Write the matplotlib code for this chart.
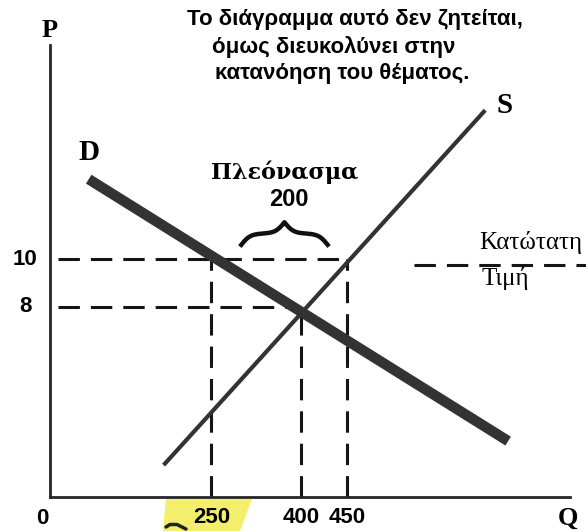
import numpy as np
import matplotlib.pyplot as plt
from matplotlib.patches import Polygon

# values
q_ticks = [250, 400, 450]
p_ticks = [8, 10]
D_q = [60, 703]          # demand curve ends
D_p = [13.36, 2.35]
S_q = [176, 667]         # supply curve ends
S_p = [1.34, 16.26]
p_floor = 10             # minimum price
q_demanded = 250
q_supplied = 450
q_eq, p_eq = 400, 8
surplus = q_supplied - q_demanded

note = ["Το διάγραμμα αυτό δεν ζητείται,",
        "όμως διευκολύνει στην",
        "κατανόηση του θέματος."]

# the Q axis of the sketch is not drawn to scale, so map it piecewise
q_anchor = [0, 250, 400, 450, 800]
u_anchor = [0, 162, 252, 298, 522]


def fwd(q):
    return np.interp(q, q_anchor, u_anchor, left=-1e3, right=1e3)


def inv(u):
    return np.interp(u, u_anchor, q_anchor, left=-1e3, right=1e3)


W, H = 586, 531
fig = plt.figure(figsize=(W / 100, H / 100), dpi=100)
ax = fig.add_axes([50 / W, (H - 497) / H, 520 / W, 452 / H])
ax.set_xscale('function', functions=(fwd, inv))
ax.set_xlim(0, 800)
ax.set_ylim(0, 19)

ink = '#262626'
for s in ['top', 'right']:
    ax.spines[s].set_visible(False)
for s in ['left', 'bottom']:
    ax.spines[s].set_linewidth(2.0)
    ax.spines[s].set_color(ink)
ax.set_xticks([])
ax.set_yticks([])

# yellow marker highlight under "250" (in figure pixels)
def figpx(pts):
    return [(x / W, 1 - y / H) for x, y in pts]

fig.patches.append(Polygon(figpx([(166, 499), (252, 499), (240, 531), (163, 531)]),
                           closed=True, fc='#f3ef6c', ec='none',
                           transform=fig.transFigure, zorder=-2))
# pen mark at the bottom edge
fig.lines.append(plt.Line2D([x / W for x in (166, 170, 177, 186)],
                            [1 - y / H for y in (527, 524.5, 524.5, 529)],
                            transform=fig.transFigure, color='#222222', lw=2.5,
                            solid_capstyle='round', zorder=-1))

# dashed guide lines
dash = dict(color='#151515', lw=2.2, dashes=(7, 3.6), solid_capstyle='butt')
ax.plot([12, q_supplied], [p_floor, p_floor], **dash)
ax.plot([12, q_eq], [p_eq, p_eq], **dash)
ax.plot([q_demanded, q_demanded], [0, p_floor], **dash)
ax.plot([q_eq, q_eq], [0, p_eq], **dash)
ax.plot([q_supplied, q_supplied], [0, p_floor], **dash)
ax.plot([555, 830], [p_floor - 0.25, p_floor - 0.25], clip_on=False, **dash)

# demand and supply
ax.plot(D_q, D_p, color='#333333', lw=7.5, solid_capstyle='butt')
ax.plot(S_q, S_p, color='#333333', lw=3.0, solid_capstyle='butt')

# brace over the surplus
u0, u1 = fwd(300), fwd(429)
u = np.linspace(u0, u1, 401)
half = u[:201]
beta = 0.22
yh = 1 / (1 + np.exp(-beta * (half - half[0]))) + 1 / (1 + np.exp(-beta * (half - half[-1])))
yb = np.concatenate([yh, yh[-2::-1]])
yb = 10.6 + (yb - yb.min()) / (yb.max() - yb.min()) * 0.95
ax.plot(inv(u), yb, color='#111111', lw=3.2)

serif = 'Liberation Serif'
sans = 'Liberation Sans'


def ftxt(x, y, s, **kw):
    kw.setdefault('ha', 'center')
    fig.text(x / W, 1 - y / H, s, va='center', **kw)


ftxt(285, 172, 'Πλεόνασμα', fontsize=16, fontweight='bold', family='DejaVu Serif')
ftxt(289, 200, str(surplus), fontsize=17, fontweight='bold', family=sans)

# axis labels and tick labels
ftxt(50, 31, 'P', fontsize=19, fontweight='bold', family=serif)
ftxt(568, 518, 'Q', fontsize=19, fontweight='bold', family=serif)
ftxt(89, 153, 'D', fontsize=21, fontweight='bold', family=serif)
ftxt(505, 105, 'S', fontsize=21, fontweight='bold', family=serif)
ftxt(42, 518, '0', fontsize=16, fontweight='bold', family=sans)

for p in p_ticks:
    ax.text(-0.048, p, str(p), transform=ax.get_yaxis_transform(), ha='center',
            va='center', fontsize=16, fontweight='bold', family=sans)
for q in q_ticks:
    ax.text(q, -0.046, str(q), transform=ax.get_xaxis_transform(), ha='center',
            va='center', fontsize=16, fontweight='bold', family=sans)

ftxt(479, 243, 'Κατώτατη', ha='left', fontsize=18, family=serif)
ftxt(481, 279, 'Τιμή', ha='left', fontsize=18, family=serif)

for (x, y), line in zip([(355, 20), (334, 47), (342, 73)], note):
    ftxt(x, y, line, fontsize=16, fontweight='bold', family=sans)

fig.savefig('out.png', dpi=100)
